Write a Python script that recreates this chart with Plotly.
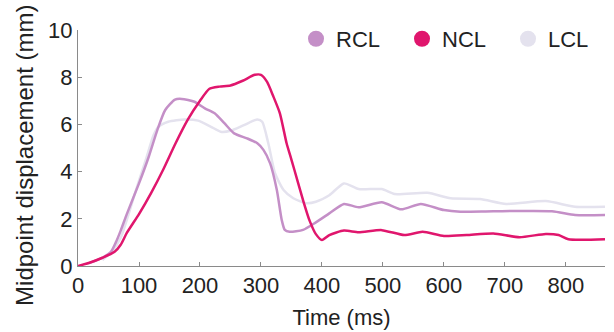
import plotly.graph_objects as go

# ---- data ----
ncl_t = [0, 20, 40, 60, 70, 80, 100, 120, 140, 160, 180, 200, 215, 232, 250, 270, 290, 300, 310, 320, 331,
         342, 350, 360, 370, 380, 390, 400, 412, 436, 460, 498, 535, 565, 600, 637, 681, 724, 767, 788, 804, 864]
ncl_v = [0.0, 0.15, 0.35, 0.6, 0.9, 1.4, 2.2, 3.1, 4.1, 5.2, 6.2, 7.0, 7.5, 7.6, 7.65, 7.85, 8.1, 8.1, 7.8, 7.2, 6.47,
         5.2, 4.5, 3.6, 2.7, 1.9, 1.35, 1.1, 1.31, 1.5, 1.43, 1.52, 1.31, 1.45, 1.27, 1.31, 1.38, 1.22, 1.36, 1.31, 1.13, 1.13]

rcl_t = [19, 40, 54, 62, 70, 80, 100, 116, 130, 143, 159, 170, 191, 208, 224, 240, 256, 277, 294, 304, 315, 326,
         334, 339, 347, 369, 390, 412, 436, 460, 498, 530, 562, 600, 627, 681, 777, 815, 864]
rcl_v = [0.13, 0.35, 0.6, 1.0, 1.5, 2.2, 3.5, 4.63, 5.76, 6.61, 7.05, 7.08, 6.96, 6.68, 6.47, 6.05, 5.62, 5.41, 5.2, 4.92, 4.35, 3.22,
         1.95, 1.53, 1.45, 1.53, 1.85, 2.23, 2.63, 2.49, 2.7, 2.4, 2.63, 2.37, 2.3, 2.32, 2.32, 2.16, 2.16]

lcl_t = [40, 55, 70, 95, 111, 124, 132, 148, 175, 197, 218, 234, 250, 272, 294, 302, 312, 323, 337, 353, 374,
         390, 412, 436, 460, 498, 519, 573, 611, 659, 702, 767, 815, 864]
lcl_v = [0.25, 0.6, 1.2, 3.22, 4.49, 5.55, 5.9, 6.11, 6.21, 6.16, 5.9, 5.69, 5.73, 5.97, 6.21, 6.11, 5.2, 3.93, 3.22, 2.87, 2.66,
         2.72, 3.0, 3.5, 3.26, 3.26, 3.05, 3.1, 2.87, 2.84, 2.63, 2.75, 2.51, 2.51]

names = ["RCL", "NCL", "LCL"]
colors = {"RCL": "#c48fc7", "NCL": "#e0166d", "LCL": "#e4e2ee"}
x_ticks = [0, 100, 200, 300, 400, 500, 600, 700, 800]
y_ticks = [0, 2, 4, 6, 8, 10]

fig = go.Figure()
series = {"LCL": (lcl_t, lcl_v), "RCL": (rcl_t, rcl_v), "NCL": (ncl_t, ncl_v)}
for nm in ["LCL", "RCL", "NCL"]:
    t, v = series[nm]
    fig.add_trace(go.Scatter(x=t, y=v, mode="lines", line=dict(color=colors[nm], width=2.5, shape="spline", smoothing=0.6),
                             showlegend=False, hoverinfo="skip"))
for nm in names:
    fig.add_trace(go.Scatter(x=[None], y=[None], mode="markers", name=nm,
                             marker=dict(color=colors[nm], size=18, symbol="circle")))

font = dict(family="Liberation Sans, Arial, sans-serif", size=22, color="#222222")
axis_common = dict(showline=True, linecolor="#8a8a8a", linewidth=1, ticks="inside", ticklen=4,
                   tickcolor="#8a8a8a", showgrid=False, zeroline=False, tickfont=font)
fig.update_xaxes(range=[0, 864], tickvals=x_ticks, ticktext=[str(v) for v in x_ticks],
                 title=dict(text="Time (ms)", font=font, standoff=12), **axis_common)
fig.update_yaxes(range=[0, 10], tickvals=y_ticks, ticktext=[str(v) for v in y_ticks], **axis_common)

fig.add_annotation(text="Midpoint displacement (mm)", xref="paper", yref="paper",
                   x=(23 - 78) / 536, y=(266 - 155) / 236, xanchor="center", yanchor="middle",
                   textangle=-90, showarrow=False,
                   font=dict(family="Liberation Sans, Arial, sans-serif", size=24, color="#222222"))

fig.update_layout(
    width=614, height=332,
    margin=dict(l=78, r=0, t=30, b=66),
    paper_bgcolor="white", plot_bgcolor="white",
    font=font,
    legend=dict(orientation="h", x=0.414, xanchor="left", y=0.962, yanchor="middle",
                entrywidth=61, entrywidthmode="pixels", font=font, bgcolor="rgba(0,0,0,0)"),
)
fig.write_html("out.html")
